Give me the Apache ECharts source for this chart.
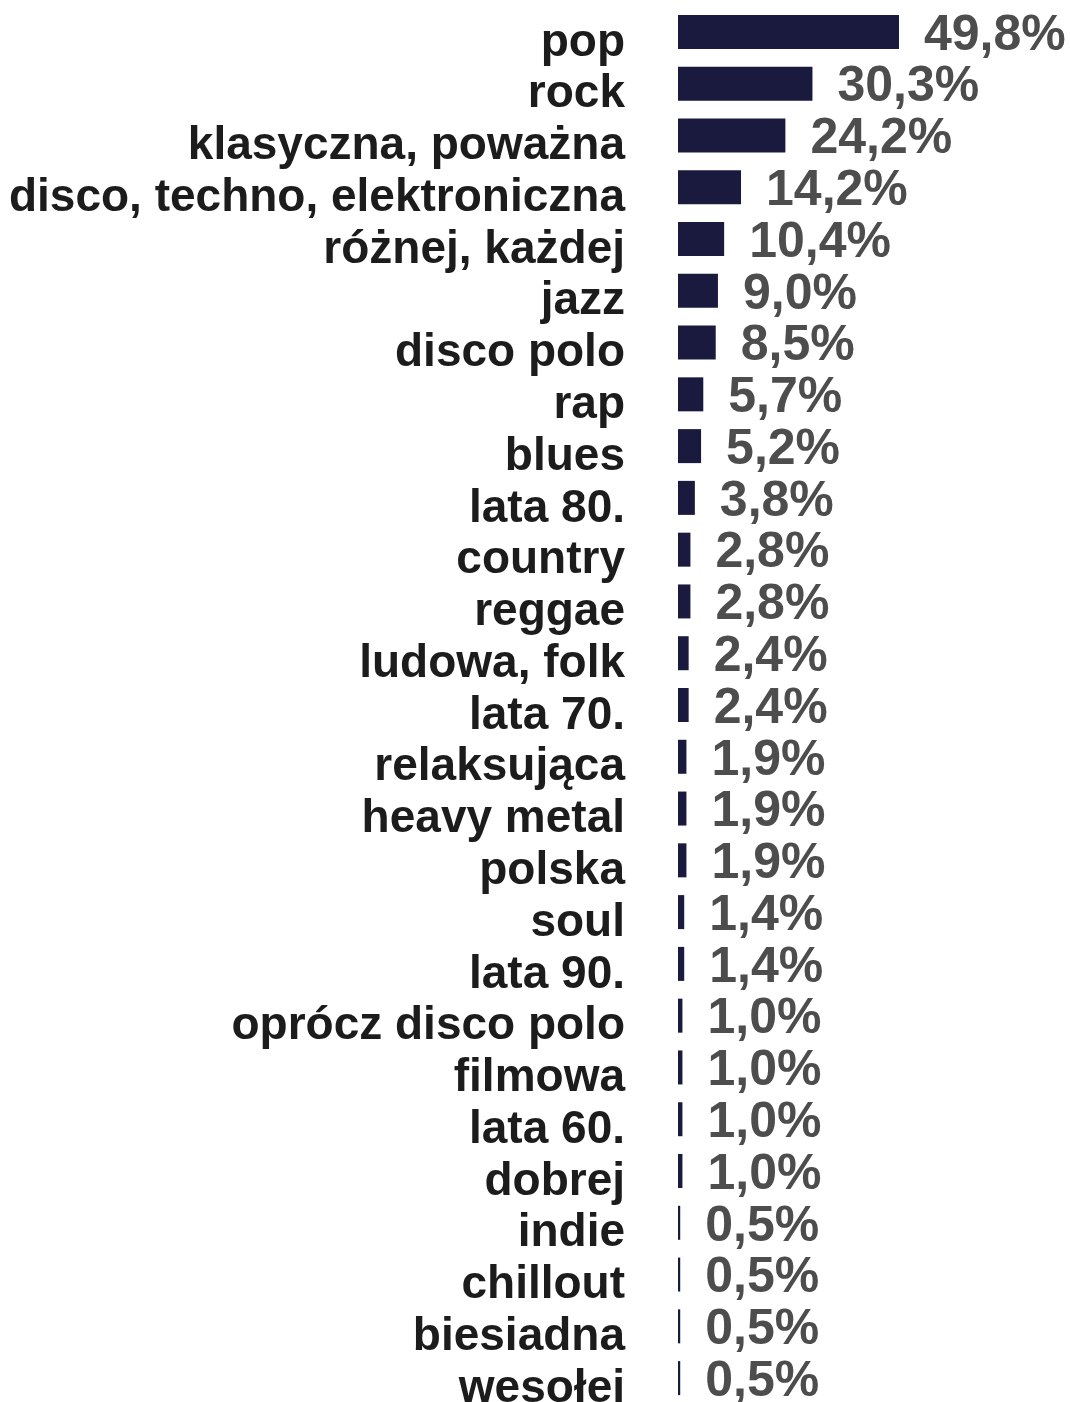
<!DOCTYPE html>
<html>
<head>
<meta charset="utf-8">
<script src="https://cdn.jsdelivr.net/npm/echarts@6/dist/echarts.min.js"></script>
<style>
  html, body { margin: 0; padding: 0; background: #fff; }
  #chart { width: 1070px; height: 1402px; }
</style>
</head>
<body>
<div id="chart"></div>
<script>
const GENRES = [
  "pop", "rock", "klasyczna, poważna", "disco, techno, elektroniczna", "różnej, każdej",
  "jazz", "disco polo", "rap", "blues", "lata 80.", "country", "reggae", "ludowa, folk",
  "lata 70.", "relaksująca", "heavy metal", "polska", "soul", "lata 90.",
  "oprócz disco polo", "filmowa", "lata 60.", "dobrej", "indie", "chillout",
  "biesiadna", "wesołej"
]
const SHARES = [
  49.8, 30.3, 24.2, 14.2, 10.4,
  9.0, 8.5, 5.7, 5.2, 3.8, 2.8, 2.8, 2.4,
  2.4, 1.9, 1.9, 1.9, 1.4, 1.4,
  1.0, 1.0, 1.0, 1.0, 0.5, 0.5,
  0.5, 0.5
]

const BAR_COLOR = "#1a1a3e"
const FONT = "'Liberation Sans', Arial, sans-serif"

const chart = echarts.init(document.getElementById("chart"), null, { renderer: "canvas" })

chart.setOption({
  animation: false,
  grid: { left: 678, top: 6, width: 355, height: 1398, outerBoundsMode: "none", containLabel: false },
  xAxis: { type: "value", min: 0, max: 80, show: false },
  yAxis: {
    type: "category",
    data: GENRES,
    inverse: true,
    axisLine: { show: false },
    axisTick: { show: false },
    splitLine: { show: false },
    axisLabel: {
      interval: 0,
      margin: 53,
      formatter: (value) => `{t|${value}}`,
      rich: {
        t: {
          color: "#1c1c1c",
          fontFamily: FONT,
          fontWeight: "bold",
          fontSize: 46,
          padding: [22, 0, 0, 0]
        }
      }
    }
  },
  series: [{
    type: "bar",
    data: SHARES,
    barWidth: 34,
    itemStyle: { color: BAR_COLOR },
    label: {
      show: true,
      position: "right",
      distance: 25,
      offset: [0, 4],
      color: "#4d4d4d",
      fontFamily: FONT,
      fontWeight: "bold",
      fontSize: 50,
      formatter: (params) => params.value.toFixed(1).replace(".", ",") + "%"
    }
  }]
})
</script>
</body>
</html>
